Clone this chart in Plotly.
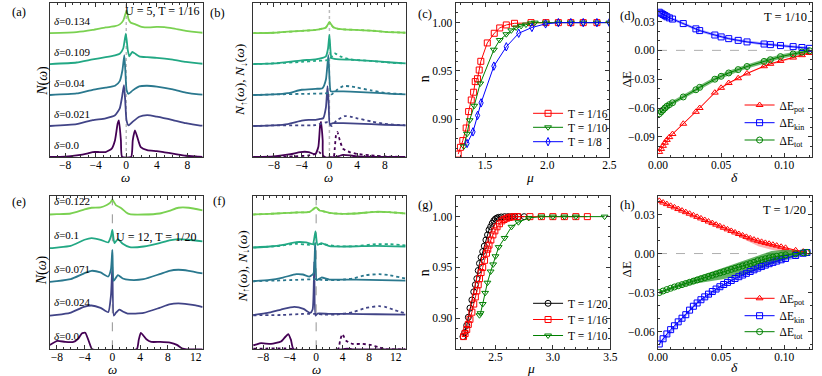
import plotly.graph_objects as go

FONT = "Liberation Serif"
VIR = ['#440154', '#414487', '#2a788e', '#22a884', '#7ad151']
RED, GREEN, BLUE, BLACK = '#ff0000', '#008000', '#0000ff', '#000000'

# ---------------- (a) U=5, total DOS ----------------
A_LABELS = ['0.0', '0.021', '0.04', '0.109', '0.134']
a0_w = [-10, -8, -6.5, -5, -4.4, -3.5, -2.7, -1.9, -1.47, -1.13, -0.96, -0.7, -0.54, 0.64, 0.85, 1.14, 1.57, 1.9, 2.74, 4.0, 5.0, 6.1, 7.8, 9.5, 10]
a0_n = [0.0, 0.01, 0.05, 0.12, 0.16, 0.16, 0.16, 0.27, 0.54, 1.07, 1.18, 0.54, 0.0, 0.0, 0.54, 0.86, 0.54, 0.32, 0.22, 0.19, 0.15, 0.11, 0.04, 0.01, 0.0]
a1_w = [-10, -6.5, -4.4, -2.7, -1.47, -0.85, -0.54, -0.3, -0.14, 0.03, 0.3, 0.85, 1.7, 2.74, 4.0, 6.1, 7.8, 9.5, 10]
a1_n = [0.0, 0.06, 0.19, 0.25, 0.35, 0.57, 0.95, 1.32, 0.84, 0.19, 0.02, 0.14, 0.3, 0.35, 0.3, 0.19, 0.09, 0.02, 0.01]
a2_w = [-10, -6.5, -4.4, -2.7, -1.47, -0.85, -0.5, -0.25, -0.1, 0.05, 0.3, 0.85, 1.7, 2.74, 4.0, 6.1, 7.8, 9.5, 10]
a2_n = [0.0, 0.05, 0.17, 0.24, 0.3, 0.45, 0.8, 1.29, 0.7, 0.15, 0.04, 0.15, 0.28, 0.3, 0.27, 0.18, 0.08, 0.02, 0.01]
a3_w = [-10, -6.5, -4.4, -2.7, -1.47, -0.85, -0.4, -0.05, 0.2, 0.4, 0.8, 1.2, 1.7, 2.74, 4.0, 6.1, 7.8, 9.5, 10]
a3_n = [0.0, 0.05, 0.15, 0.22, 0.28, 0.33, 0.5, 0.98, 0.45, 0.25, 0.39, 0.33, 0.25, 0.22, 0.2, 0.14, 0.07, 0.02, 0.01]
a4_w = [-10, -6.5, -4.4, -2.7, -1.47, -0.85, -0.4, 0.05, 0.3, 0.6, 1.2, 2.0, 3.0, 4.0, 5.0, 6.1, 7.8, 9.5, 10]
a4_n = [0.0, 0.03, 0.1, 0.18, 0.22, 0.28, 0.4, 0.72, 0.45, 0.33, 0.28, 0.2, 0.18, 0.2, 0.19, 0.15, 0.07, 0.02, 0.01]

# ---------------- (b) U=5, spin resolved ----------------
b0u_w = [-11, -8, -5.6, -4.2, -3.0, -2.05, -1.6, -1.34, -1.2, -0.97, -0.85, 1.0, 1.5, 2.0, 3.0, 4.0, 11]
b0u_n = [0.0, 0.02, 0.09, 0.16, 0.16, 0.09, 0.32, 1.02, 1.13, 0.54, 0.0, 0.0, 0.04, 0.07, 0.05, 0.02, 0.0]
b0d_w = [-11, -5, -3, -2, -1.5, -1.0, -0.6, 0.6, 0.78, 0.95, 1.15, 1.5, 1.95, 2.9, 4.0, 6.0, 8.0, 11]
b0d_n = [0.0, 0.02, 0.05, 0.1, 0.16, 0.05, 0.0, 0.0, 0.3, 0.7, 0.81, 0.54, 0.27, 0.16, 0.1, 0.05, 0.02, 0.0]
b1u_w = [-11, -8, -6, -4, -3, -2, -1.34, -0.9, -0.5, -0.27, -0.1, 0.06, 0.5, 2, 4, 8, 11]
b1u_n = [0.0, 0.02, 0.06, 0.17, 0.2, 0.2, 0.23, 0.25, 0.6, 1.29, 0.7, 0.06, 0.09, 0.09, 0.08, 0.04, 0.02]
b1d_w = [-11, -8, -2, -1, -0.3, 0.3, 1, 2.2, 3, 4, 6, 8, 11]
b1d_n = [0.0, 0.02, 0.03, 0.09, 0.12, 0.0, 0.17, 0.32, 0.3, 0.25, 0.15, 0.07, 0.02]
b2u_w = [-11, -8, -6, -4, -2, -1, -0.5, -0.15, 0.0, 0.2, 1, 3, 6, 9, 11]
b2u_n = [0.0, 0.02, 0.06, 0.17, 0.2, 0.22, 0.5, 1.29, 0.6, 0.12, 0.12, 0.11, 0.08, 0.04, 0.02]
b2d_w = [-11, -8, -3, -1, 0, 0.3, 1, 2, 3, 4, 6, 8, 11]
b2d_n = [0.0, 0.02, 0.04, 0.05, 0.06, 0.02, 0.15, 0.29, 0.28, 0.24, 0.15, 0.07, 0.02]
b3u_w = [-11, -8, -4, -2, -0.5, -0.2, 0.0, 0.15, 0.3, 1, 3, 6, 9, 11]
b3u_n = [0.0, 0.02, 0.12, 0.15, 0.25, 0.5, 0.94, 0.45, 0.2, 0.16, 0.14, 0.1, 0.05, 0.02]
b3d_w = [-11, -8, -4, -2, -0.5, 0, 0.5, 0.8, 1.5, 3, 6, 9, 11]
b3d_n = [0.0, 0.02, 0.07, 0.1, 0.12, 0.15, 0.28, 0.34, 0.25, 0.15, 0.1, 0.04, 0.02]
b4u_w = [-11, -8, -4, -2, -0.5, 0, 0.5, 1, 2, 4, 6, 8, 11]
b4u_n = [0.0, 0.01, 0.07, 0.1, 0.18, 0.35, 0.2, 0.15, 0.12, 0.1, 0.08, 0.04, 0.01]
b4d_w = b4u_w
b4d_n = b4u_n

# ---------------- (e) U=12, total DOS ----------------
E_LABELS = ['0.0', '0.024', '0.071', '0.1', '0.122']
e0_w = [-9, -7.9, -6.8, -5.6, -4.9, -4.4, -3.9, -3.5, -3.2, -2.9, 3.5, 3.8, 4.1, 4.9, 5.6, 6.9, 8.3, 9.3, 10, 10.7, 13]
e0_n = [0.13, 0.25, 0.22, 0.22, 0.32, 0.47, 0.49, 0.3, 0.13, 0.0, 0.0, 0.28, 0.49, 0.3, 0.22, 0.22, 0.2, 0.13, 0.03, 0.0, 0.0]
e1_w = [-9, -8, -6.1, -4.1, -3.0, -1.7, -0.6, -0.2, 0, 0.2, 0.5, 1.0, 1.5, 2.2, 4.5, 6.8, 8.2, 9.5, 11, 12, 13]
e1_n = [0.0, 0.02, 0.08, 0.26, 0.3, 0.23, 0.1, 0.6, 1.45, 0.0, 0.08, 0.18, 0.12, 0.06, 0.08, 0.23, 0.33, 0.36, 0.33, 0.3, 0.25]
e2_w = [-9, -8, -6, -4, -3, -1.7, -0.6, -0.2, 0, 0.2, 0.8, 1.5, 2.5, 4.5, 6.8, 8.2, 9.5, 11, 13]
e2_n = [0.0, 0.02, 0.08, 0.26, 0.33, 0.28, 0.16, 0.38, 0.95, 0.03, 0.2, 0.1, 0.06, 0.08, 0.23, 0.33, 0.36, 0.33, 0.25]
e3_w = [-9, -8, -6, -4, -3, -1.7, -0.6, -0.2, 0, 0.3, 0.8, 1.5, 2.5, 4.5, 6.8, 8.2, 9.5, 11, 13]
e3_n = [0.0, 0.02, 0.07, 0.25, 0.3, 0.25, 0.17, 0.35, 0.54, 0.15, 0.27, 0.13, 0.03, 0.05, 0.15, 0.23, 0.27, 0.25, 0.2]
e4_w = [-9, -8, -6, -4, -3, -1.7, -0.8, -0.3, 0, 0.5, 1, 1.5, 2, 2.5, 4.5, 6.8, 8.2, 9.5, 11, 13]
e4_n = [0.0, 0.01, 0.03, 0.15, 0.2, 0.21, 0.28, 0.35, 0.44, 0.28, 0.22, 0.15, 0.06, 0.01, 0.0, 0.03, 0.11, 0.2, 0.2, 0.12]

# ---------------- (f) U=12, spin resolved ----------------
f0u_w = [-9.5, -9.2, -8.3, -6.8, -5.3, -4.6, -4.2, -3.8, -3.4, 4.0, 4.7, 5.5, 13.5]
f0u_n = [0.12, 0.13, 0.18, 0.16, 0.23, 0.38, 0.45, 0.28, 0.0, 0.0, 0.02, 0.0, 0.0]
f0d_w = [-9.5, -4, -3.5, 3.3, 3.6, 3.95, 4.5, 5.5, 7, 8.2, 9.5, 10.4, 13.5]
f0d_n = [0.02, 0.02, 0.0, 0.0, 0.25, 0.45, 0.26, 0.16, 0.16, 0.13, 0.06, 0.0, 0.0]
f1u_w = [-9.5, -7.3, -5.3, -3.3, -1.9, -0.9, -0.53, -0.28, -0.1, 0.2, 2, 5, 9, 13.5]
f1u_n = [0.02, 0.08, 0.18, 0.26, 0.2, 0.08, 0.18, 1.6, 0.0, 0.06, 0.05, 0.05, 0.04, 0.03]
f1d_w = [-9.5, -5, -2, -1, 0, 1, 3, 5.5, 7.5, 9.5, 10.4, 11.9, 13.5]
f1d_n = [0.01, 0.02, 0.05, 0.05, 0.05, 0.03, 0.03, 0.1, 0.23, 0.28, 0.26, 0.16, 0.06]
f2u_w = [-9.5, -7, -5, -3, -2, -1, -0.4, -0.15, 0.1, 0.8, 2, 4, 8, 13.5]
f2u_n = [0.02, 0.06, 0.13, 0.23, 0.22, 0.16, 0.25, 1.17, 0.05, 0.13, 0.07, 0.07, 0.06, 0.04]
f2d_w = [-9.5, -6, -3, 0, 1, 3, 5.5, 7.5, 9.5, 11, 13.5]
f2d_n = [0.02, 0.04, 0.06, 0.08, 0.06, 0.05, 0.1, 0.2, 0.23, 0.2, 0.1]
f3u_w = [-9.5, -7, -5, -3, -1.5, -0.5, -0.1, 0.2, 0.8, 2, 5, 9, 13.5]
f3u_n = [0.02, 0.05, 0.1, 0.18, 0.17, 0.12, 0.5, 0.1, 0.15, 0.06, 0.05, 0.07, 0.05]
f3d_w = [-9.5, -6, -3, -1, 0, 1, 3, 6, 9, 11, 13.5]
f3d_n = [0.02, 0.06, 0.13, 0.1, 0.12, 0.12, 0.06, 0.06, 0.12, 0.12, 0.08]
f4u_w = [-9.5, -7, -5, -3, -1, 0, 0.5, 1, 2, 4, 6, 9, 11, 13.5]
f4u_n = [0.0, 0.02, 0.04, 0.06, 0.08, 0.21, 0.12, 0.1, 0.05, 0.02, 0.03, 0.08, 0.07, 0.03]
f4d_w = f4u_w
f4d_n = f4u_n

# ---------------- (c) n(mu), U=5 ----------------
c_mu_16 = [1.284, 1.302, 1.321, 1.348, 1.368, 1.389, 1.408, 1.421, 1.439, 1.453, 1.466, 1.518, 1.574, 1.618, 1.671, 1.737, 1.87, 1.99, 2.09, 2.19, 2.29, 2.4]
c_n_16 = [0.864, 0.871, 0.878, 0.891, 0.908, 0.920, 0.928, 0.939, 0.942, 0.951, 0.960, 0.979, 0.989, 0.9945, 0.9976, 0.9993, 1.0, 1.0, 1.0, 1.0, 1.0, 1.0]
c_mu_10 = [1.329, 1.355, 1.376, 1.413, 1.461, 1.571, 1.618, 1.671, 1.711, 1.75, 1.79, 1.829, 1.869, 1.9, 1.99, 2.09, 2.19, 2.29, 2.4, 2.5]
c_n_10 = [0.872, 0.885, 0.899, 0.914, 0.937, 0.972, 0.982, 0.988, 0.992, 0.995, 0.9966, 0.998, 0.9993, 1.0, 1.0, 1.0, 1.0, 1.0, 1.0, 1.0]
c_mu_8 = [1.355, 1.403, 1.440, 1.468, 1.571, 1.671, 1.771, 1.877, 1.987, 2.09, 2.19, 2.29, 2.4, 2.5]
c_n_8 = [0.875, 0.887, 0.904, 0.917, 0.955, 0.975, 0.989, 0.995, 0.9987, 1.0, 1.0, 1.0, 1.0, 1.0]

# ---------------- (g) n(mu), U=12 ----------------
g_mu_20 = [2.217, 2.232, 2.25, 2.264, 2.278, 2.295, 2.311, 2.325, 2.338, 2.35, 2.361, 2.375, 2.389, 2.403, 2.417, 2.431, 2.444, 2.458, 2.472, 2.486, 2.5, 2.514, 2.528, 2.55, 2.58, 2.61, 2.64, 2.67, 2.7, 2.75]
g_n_20 = [0.882, 0.886, 0.893, 0.901, 0.910, 0.918, 0.926, 0.933, 0.939, 0.947, 0.954, 0.960, 0.9656, 0.971, 0.977, 0.982, 0.987, 0.990, 0.9934, 0.996, 0.9977, 0.9987, 0.9993, 0.9997, 1.0, 1.0, 1.0, 1.0, 1.0, 1.0]
g_mu_16 = [2.222, 2.236, 2.25, 2.264, 2.278, 2.295, 2.311, 2.325, 2.338, 2.35, 2.361, 2.375, 2.389, 2.405, 2.422, 2.433, 2.444, 2.46, 2.478, 2.495, 2.514, 2.535, 2.556, 2.575, 2.597, 2.62, 2.639, 2.665, 2.694, 2.8, 2.9, 3.0, 3.1, 3.2, 3.3]
g_n_16 = [0.882, 0.885, 0.889, 0.894, 0.899, 0.906, 0.914, 0.921, 0.927, 0.933, 0.939, 0.945, 0.950, 0.957, 0.964, 0.968, 0.972, 0.977, 0.982, 0.986, 0.990, 0.993, 0.9958, 0.9972, 0.9984, 0.9992, 0.9997, 0.9999, 1.0, 1.0, 1.0, 1.0, 1.0, 1.0, 1.0]
g_mu_10 = [2.361, 2.37, 2.389, 2.41, 2.43, 2.458, 2.48, 2.5, 2.528, 2.58, 2.64, 2.7, 2.79, 2.9, 3.0, 3.1, 3.2, 3.45]
g_n_10 = [0.903, 0.905, 0.914, 0.925, 0.935, 0.946, 0.953, 0.961, 0.970, 0.979, 0.99, 0.9945, 0.9987, 1.0, 1.0, 1.0, 1.0, 1.0]

# ---------------- (d) energies, U=5, T=1/10 ----------------
d_delta = [0.001, 0.0025, 0.004, 0.0055, 0.007, 0.009, 0.0115, 0.02, 0.03, 0.033, 0.045, 0.05, 0.056, 0.0635, 0.0705, 0.084, 0.089, 0.097, 0.107, 0.114, 0.12]
d_pot = [-0.1057, -0.1026, -0.0994, -0.0962, -0.0932, -0.0903, -0.0871, -0.0764, -0.064, -0.060, -0.044, -0.039, -0.034, -0.029, -0.024, -0.0165, -0.014, -0.011, -0.0075, -0.005, -0.0027]
d_kin = [0.0397, 0.0386, 0.0374, 0.0362, 0.0350, 0.0338, 0.0326, 0.0279, 0.0224, 0.0206, 0.0160, 0.0140, 0.0122, 0.0104, 0.0088, 0.0066, 0.0060, 0.0050, 0.0039, 0.0030, 0.0021]
d_tot = [-0.0660, -0.0640, -0.0620, -0.0600, -0.0582, -0.0565, -0.0545, -0.0485, -0.0410, -0.0385, -0.0300, -0.0270, -0.0235, -0.0200, -0.0168, -0.0115, -0.0097, -0.0065, -0.0038, -0.0018, -0.0004]
d_pot_err, d_kin_err, d_tot_err = 0.0008, 0.0015, 0.0022

# ---------------- (h) energies, U=12, T=1/20 ----------------
h_delta = [0.001, 0.004, 0.007, 0.010, 0.013, 0.016, 0.019, 0.022, 0.025, 0.028, 0.031, 0.034, 0.037, 0.040, 0.043, 0.046, 0.049, 0.052, 0.055, 0.058, 0.061, 0.064, 0.067, 0.070, 0.073, 0.076, 0.079, 0.082, 0.085, 0.088, 0.091, 0.094, 0.0975, 0.101, 0.109, 0.115, 0.118]
h_pot = [0.0405, 0.0392, 0.038, 0.0367, 0.0355, 0.0342, 0.033, 0.0318, 0.0306, 0.0294, 0.0282, 0.027, 0.0258, 0.0246, 0.0234, 0.0222, 0.021, 0.0198, 0.0186, 0.0174, 0.0162, 0.015, 0.0139, 0.0128, 0.0117, 0.0107, 0.0098, 0.009, 0.0082, 0.0075, 0.0068, 0.0061, 0.0052, 0.0044, 0.0025, 0.0015, 0.0012]
h_kin = [-0.0695, -0.0655, -0.0618, -0.0585, -0.0555, -0.0525, -0.0497, -0.047, -0.0435, -0.0405, -0.038, -0.0355, -0.0333, -0.0312, -0.0292, -0.0273, -0.0255, -0.0238, -0.0222, -0.0207, -0.0192, -0.0178, -0.0165, -0.0152, -0.0138, -0.0125, -0.0112, -0.01, -0.0089, -0.0078, -0.0068, -0.0058, -0.0048, -0.0038, -0.0015, 0.0002, 0.0008]
h_tot = [-0.030, -0.0288, -0.0277, -0.0267, -0.0257, -0.0248, -0.0239, -0.023, -0.0221, -0.0212, -0.0203, -0.0194, -0.0185, -0.0176, -0.0167, -0.0158, -0.0149, -0.014, -0.0131, -0.0122, -0.0113, -0.0104, -0.0095, -0.0086, -0.0077, -0.0068, -0.0055, -0.0047, -0.004, -0.0033, -0.0027, -0.0021, -0.0015, -0.001, -0.0002, 0.0006, 0.0009]
h_pot_band_d = [0.001, 0.03, 0.06, 0.07, 0.08, 0.09, 0.1, 0.11, 0.118]
h_pot_band_hi = [0.041, 0.0287, 0.0168, 0.0135, 0.0105, 0.0078, 0.0052, 0.0028, 0.0016]
h_pot_band_lo = [0.040, 0.0278, 0.0155, 0.010, 0.0055, 0.003, 0.0012, 0.0005, 0.0008]
h_tot_band_d = [0.001, 0.015, 0.03, 0.05, 0.07, 0.09, 0.1, 0.11, 0.118]
h_tot_band_hi = [-0.029, -0.0235, -0.018, -0.0115, -0.0045, 0.002, 0.003, 0.0025, 0.0014]
h_tot_band_lo = [-0.031, -0.0265, -0.023, -0.0200, -0.0160, -0.008, -0.005, -0.002, 0.0004]
h_kin_band_d = [0.001, 0.03, 0.06, 0.09, 0.1, 0.11, 0.118]
h_kin_band_hi = [-0.068, -0.0372, -0.0185, -0.0055, -0.002, 0.001, 0.002]
h_kin_band_lo = [-0.071, -0.0398, -0.021, -0.0087, -0.006, -0.0035, -0.0005]

W, H = 822, 376
# panel boxes in pixels: (x0, x1, ytop, ybottom)
BOX = {
    1: (40.7, 196.7, 3.3, 157.0),
    2: (248.3, 404.0, 3.3, 157.0),
    3: (455.0, 612.0, 3.3, 157.0),
    4: (661.7, 819.0, 3.3, 157.0),
    5: (40.7, 196.7, 196.3, 349.3),
    6: (248.3, 404.0, 196.3, 349.3),
    7: (455.0, 613.0, 196.3, 349.3),
    8: (661.7, 819.0, 196.3, 349.3),
}

fig = go.Figure()


def xy(k):
    return ('x' if k == 1 else f'x{k}'), ('y' if k == 1 else f'y{k}')


def spec(k, w, n, off, color, dash='solid'):
    xa, ya = xy(k)
    fig.add_trace(go.Scatter(x=w, y=[v + off for v in n], mode='lines', xaxis=xa, yaxis=ya,
                             line=dict(color=color, width=1.8, dash=dash, shape='spline', smoothing=0.5),
                             showlegend=False, hoverinfo='skip'))


a_sets = [(a0_w, a0_n), (a1_w, a1_n), (a2_w, a2_n), (a3_w, a3_n), (a4_w, a4_n)]
for i, (w, n) in enumerate(a_sets):
    spec(1, w, n, i, VIR[i])
b_sets = [(b0u_w, b0u_n, b0d_w, b0d_n), (b1u_w, b1u_n, b1d_w, b1d_n), (b2u_w, b2u_n, b2d_w, b2d_n),
          (b3u_w, b3u_n, b3d_w, b3d_n), (b4u_w, b4u_n, b4d_w, b4d_n)]
for i, (wu, nu, wd, nd) in enumerate(b_sets):
    spec(2, wd, nd, i, VIR[i], 'dot')
    spec(2, wu, nu, i, VIR[i])
e_sets = [(e0_w, e0_n), (e1_w, e1_n), (e2_w, e2_n), (e3_w, e3_n), (e4_w, e4_n)]
for i, (w, n) in enumerate(e_sets):
    spec(5, w, n, i, VIR[i])
f_sets = [(f0u_w, f0u_n, f0d_w, f0d_n), (f1u_w, f1u_n, f1d_w, f1d_n), (f2u_w, f2u_n, f2d_w, f2d_n),
          (f3u_w, f3u_n, f3d_w, f3d_n), (f4u_w, f4u_n, f4d_w, f4d_n)]
for i, (wu, nu, wd, nd) in enumerate(f_sets):
    spec(6, wd, nd, i, VIR[i], 'dot')
    spec(6, wu, nu, i, VIR[i])

LEGFONT = dict(family=FONT, size=11.5, color='black')
legends = {}
leg_count = [0]


def new_legend(text_x, cy):
    # one legend per entry so that the vertical spacing matches the reference
    leg_count[0] += 1
    key = 'legend' if leg_count[0] == 1 else f'legend{leg_count[0]}'
    legends[key] = dict(x=(text_x - 34) / W, y=1 - cy / H, xanchor='left', yanchor='middle',
                        bgcolor='rgba(0,0,0,0)', font=LEGFONT, itemwidth=30, tracegroupgap=0)
    return key


def series(k, x, y, color, symbol, name, legpos, size=6):
    xa, ya = xy(k)
    key = new_legend(*legpos)
    fig.add_trace(go.Scatter(x=x, y=y, mode='lines+markers', xaxis=xa, yaxis=ya, name=name, legend=key,
                             line=dict(color=color, width=1),
                             marker=dict(symbol=symbol, size=size, color=color, line=dict(width=1, color=color))))


def band(k, x, lo, hi, fill):
    xa, ya = xy(k)
    fig.add_trace(go.Scatter(x=list(x) + list(x)[::-1], y=list(hi) + list(lo)[::-1], mode='lines',
                             xaxis=xa, yaxis=ya, fill='toself', fillcolor=fill, line=dict(width=0),
                             showlegend=False, hoverinfo='skip'))


series(3, c_mu_16, c_n_16, RED, 'square-open', 'T = 1/16', (563, 113.3))
series(3, c_mu_10, c_n_10, GREEN, 'triangle-down-open', 'T = 1/10', (563, 127.3))
series(3, c_mu_8, c_n_8, BLUE, 'diamond-tall-open', 'T = 1/8', (563, 141.7))

series(7, g_mu_20, g_n_20, BLACK, 'circle-open', 'T = 1/20', (563, 303.3))
series(7, g_mu_16, g_n_16, RED, 'square-open', 'T = 1/16', (563, 319.5))
series(7, g_mu_10, g_n_10, GREEN, 'triangle-down-open', 'T = 1/10', (563, 335.5))

band(4, d_delta, [v - d_pot_err for v in d_pot], [v + d_pot_err for v in d_pot], 'rgba(255,0,0,0.3)')
band(4, d_delta, [v - d_kin_err for v in d_kin], [v + d_kin_err for v in d_kin], 'rgba(0,0,255,0.35)')
band(4, d_delta, [v - d_tot_err for v in d_tot], [v + d_tot_err for v in d_tot], 'rgba(0,128,0,0.55)')
series(4, d_delta, d_pot, RED, 'triangle-up-open', 'ΔE<sub>pot</sub>', (779, 105))
series(4, d_delta, d_kin, BLUE, 'square-open', 'ΔE<sub>kin</sub>', (779, 122.7))
series(4, d_delta, d_tot, GREEN, 'circle-open', 'ΔE<sub>tot</sub>', (779, 140))

band(8, h_pot_band_d, h_pot_band_lo, h_pot_band_hi, 'rgba(255,0,0,0.3)')
band(8, h_kin_band_d, h_kin_band_lo, h_kin_band_hi, 'rgba(0,0,255,0.35)')
band(8, h_tot_band_d, h_tot_band_lo, h_tot_band_hi, 'rgba(0,128,0,0.6)')
series(8, h_delta, h_pot, RED, 'triangle-up-open', 'ΔE<sub>pot</sub>', (779, 298.3))
series(8, h_delta, h_kin, BLUE, 'square-open', 'ΔE<sub>kin</sub>', (779, 315.7))
series(8, h_delta, h_tot, GREEN, 'circle-open', 'ΔE<sub>tot</sub>', (779, 331.7))

TICKFONT = dict(family=FONT, size=11.5, color='black')
LINE = '#333333'


def axes(k, xr, yr, xt, yt=None, xfmt=None, yfmt=None, xminor=None, yminor=None):
    x0, x1, yt0, yb = BOX[k]
    xd = [x0 / W, x1 / W]
    yd = [1 - yb / H, 1 - yt0 / H]
    xa, ya = xy(k)
    xkey = 'xaxis' if k == 1 else f'xaxis{k}'
    ykey = 'yaxis' if k == 1 else f'yaxis{k}'
    common = dict(showline=True, linecolor=LINE, linewidth=1, mirror='ticks', ticks='inside', ticklen=4,
                  tickwidth=1, tickcolor=LINE, showgrid=False, zeroline=False, tickfont=TICKFONT)
    xdict = dict(common, domain=xd, range=xr, anchor=ya, tickvals=xt, ticklabelstandoff=-3)
    if xfmt:
        xdict['tickformat'] = xfmt
    if xminor:
        xdict['minor'] = dict(ticks='inside', ticklen=2, dtick=xminor, tickcolor=LINE, showgrid=False)
    ydict = dict(common, domain=yd, range=yr, anchor=xa)
    if yt is None:
        ydict.update(ticks='', showticklabels=False)
    else:
        ydict['tickvals'] = yt
        if yfmt:
            ydict['tickformat'] = yfmt
        if yminor:
            ydict['minor'] = dict(ticks='inside', ticklen=2, dtick=yminor, tickcolor=LINE, showgrid=False)
    fig.layout[xkey] = xdict
    fig.layout[ykey] = ydict


axes(1, [-10, 10], [0, 4.96], [-8, -4, 0, 4, 8], xminor=1)
axes(2, [-11, 11], [0, 4.96], [-8, -4, 0, 4, 8], xminor=1)
axes(3, [1.263, 2.5], [0.861, 1.02], [1.5, 2.0, 2.5], [0.90, 0.95, 1.00], '.1f', '.2f', 0.1, 0.01)
axes(4, [0, 0.122], [-0.111, 0.049], [0.0, 0.05, 0.10], [-0.09, -0.06, -0.03, 0.0, 0.03], '.2f', '.2f', 0.01, 0.01)
axes(5, [-9, 13], [0, 4.54], [-8, -4, 0, 4, 8, 12], xminor=1)
axes(6, [-9.5, 13.5], [0, 4.54], [-8, -4, 0, 4, 8, 12], xminor=1)
axes(7, [2.153, 3.5], [0.8695, 1.02], [2.5, 3.0, 3.5], [0.90, 0.95, 1.00], '.1f', '.2f', 0.1, 0.01)
axes(8, [0, 0.122], [-0.0736, 0.044], [0.0, 0.05, 0.10], [-0.06, -0.03, 0.0, 0.03], '.2f', '.2f', 0.01, 0.01)

shapes = []
for k, col, dash, wd in [(1, '#bbbbbb', 'dot', 1.5), (2, '#bbbbbb', 'dot', 1.5), (5, '#777777', 'dash', 0.8), (6, '#777777', 'dash', 0.8)]:
    xa, ya = xy(k)
    shapes.append(dict(type='line', xref=xa, yref=f'{ya} domain', x0=0, x1=0, y0=0, y1=1,
                       line=dict(color=col, dash=dash, width=wd), layer='below'))
for k in (4, 8):
    xa, ya = xy(k)
    shapes.append(dict(type='line', xref=f'{xa} domain', yref=ya, x0=0, x1=1, y0=0, y1=0,
                       line=dict(color='#999999', dash='dash', width=0.8), layer='below'))

ann = []


def txt(px, py, s, size=12, angle=0, xanchor='center'):
    ann.append(dict(x=px / W, y=1 - py / H, xref='paper', yref='paper', text=s, showarrow=False,
                    font=dict(family=FONT, size=size, color='black'), textangle=angle,
                    xanchor=xanchor, yanchor='middle'))


for lab, px, py in [('(a)', 9, 12.5), ('(b)', 212, 13), ('(c)', 424, 14), ('(d)', 631, 16),
                    ('(e)', 9, 202), ('(f)', 214, 201), ('(g)', 424, 205), ('(h)', 631, 205)]:
    txt(px, py, lab, 12.5)

NUD = '<i>N</i><sub>↑</sub>(<i>ω</i>), <i>N</i><sub>↓</sub>(<i>ω</i>)'
txt(33.5, 81, '<i>N</i>(<i>ω</i>)', 14, -90)
txt(236, 80, NUD, 13.5, -90)
txt(33, 270, '<i>N</i>(<i>ω</i>)', 14, -90)
txt(237.5, 267, NUD, 13.5, -90)
txt(423, 79, 'n', 14, -90)
txt(423, 273, 'n', 14, -90)
txt(629.5, 79, 'ΔE', 13, -90)
txt(629.5, 269, 'ΔE', 13, -90)
txt(118.3, 178, '<i>ω</i>', 13)
txt(325.7, 178, '<i>ω</i>', 13)
txt(104.3, 369, '<i>ω</i>', 13)
txt(313.3, 369, '<i>ω</i>', 13)
txt(531, 178, '<i>μ</i>', 13.5)
txt(531.7, 368, '<i>μ</i>', 13.5)
txt(740, 177, '<i>δ</i>', 13.5)
txt(740, 367.5, '<i>δ</i>', 13.5)

txt(195, 11, 'U = 5, T = 1/16', 12, 0, 'right')
txt(192, 236.7, 'U = 12, T = 1/20', 12, 0, 'right')
txt(816, 17, 'T = 1/10', 12.5, 0, 'right')
txt(815, 210, 'T = 1/20', 12.5, 0, 'right')

for i, lab in enumerate(A_LABELS):
    ann.append(dict(x=0.015, y=i + 0.4, xref='x domain', yref='y', text='<i>δ</i>=' + lab, showarrow=False,
                    font=dict(family=FONT, size=11, color='black'), xanchor='left', yanchor='middle'))
for i, lab in enumerate(E_LABELS):
    ann.append(dict(x=0.015, y=i + 0.39, xref='x5 domain', yref='y5', text='<i>δ</i>=' + lab, showarrow=False,
                    font=dict(family=FONT, size=11, color='black'), xanchor='left', yanchor='middle'))

fig.update_layout(
    width=W, height=H, margin=dict(l=0, r=0, t=0, b=0),
    paper_bgcolor='white', plot_bgcolor='white',
    shapes=shapes, annotations=ann,
    font=dict(family=FONT),
    **legends,
)

fig.write_html('out.html', config={'displayModeBar': False},
               post_script="document.body.style.margin='0px';document.body.style.overflow='hidden';")
